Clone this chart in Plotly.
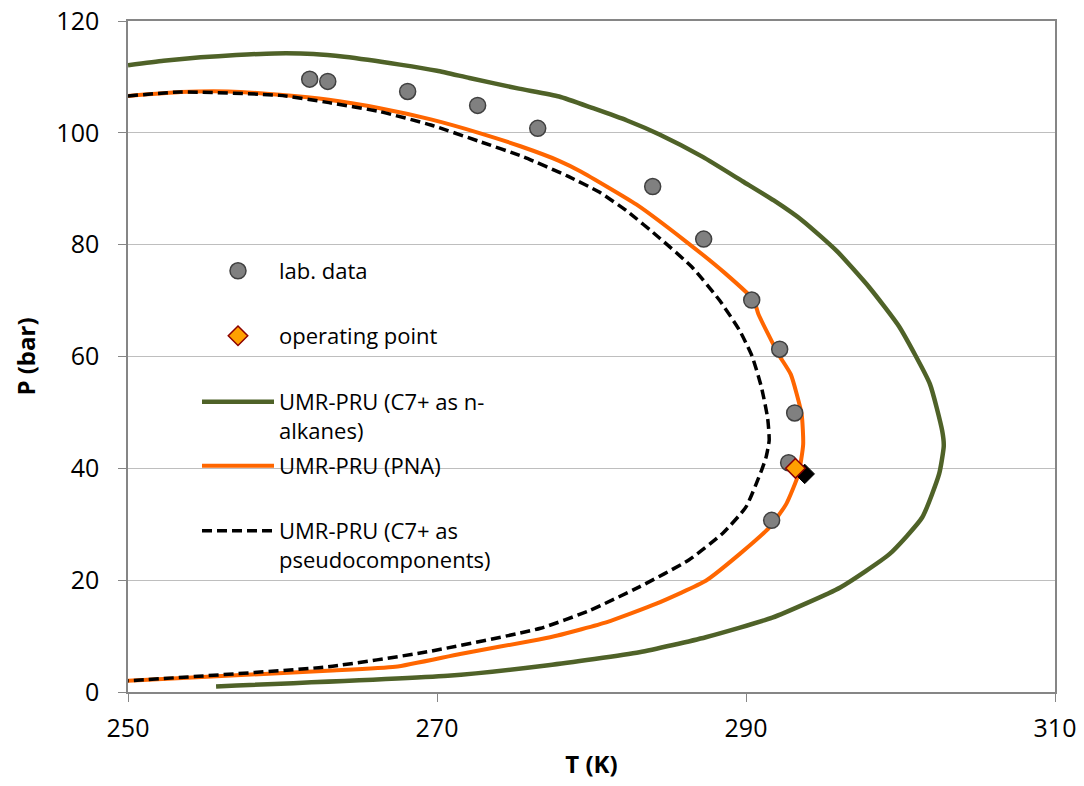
import plotly.graph_objects as go

# Lab data
lab_T = [261.76, 262.93, 268.1, 272.63, 276.52, 283.96, 287.26, 290.37, 292.18, 293.15, 292.76, 291.66]
lab_P = [109.6, 109.2, 107.4, 104.9, 100.8, 90.4, 81.0, 70.1, 61.3, 49.9, 41.0, 30.7]

# Operating point
op_T = [293.2]
op_P = [40.0]
op_shadow_T = [293.8]
op_shadow_P = [39.0]

# UMR-PRU (C7+ as n-alkanes)
nalk_T = [250.0, 252.3, 254.7, 257.0, 259.5, 262.0, 264.0, 267.6, 270.0, 272.1, 275.3, 277.9,
          280.1, 282.3, 284.4, 287.2, 289.8, 291.8, 293.7, 295.9, 298.0, 299.9, 301.9, 302.7,
          302.8, 302.5, 301.4, 299.3, 296.1, 291.7, 287.4, 283.1, 277.2, 270.7, 255.7]
nalk_P = [112.1, 112.9, 113.5, 113.9, 114.2, 114.1, 113.6, 112.2, 111.1, 109.8, 107.9, 106.5,
          104.4, 102.2, 99.7, 95.7, 91.3, 87.9, 84.2, 78.8, 72.3, 65.4, 55.1, 46.7,
          44.0, 39.0, 31.2, 24.7, 18.7, 13.3, 9.8, 7.1, 4.8, 2.9, 1.0]

# UMR-PRU (PNA)
pna_T = [250.0, 253.4, 256.5, 259.8, 263.0, 266.3, 269.6, 272.7, 275.4, 277.9, 279.3, 282.9,
         286.1, 288.6, 290.5, 290.8, 292.1, 292.9, 293.6, 293.7, 293.4, 292.6, 291.5, 289.6,
         287.4, 284.2, 281.0, 277.8, 276.6, 271.5, 267.3, 262.9, 250.0]
pna_P = [106.6, 107.3, 107.4, 106.8, 105.9, 104.4, 102.4, 100.0, 97.6, 95.0, 93.1, 87.2,
         80.6, 75.0, 70.1, 67.6, 60.4, 56.8, 49.7, 44.3, 39.0, 33.6, 29.4, 24.7,
         19.9, 15.8, 12.5, 10.1, 9.4, 6.8, 4.5, 3.8, 2.0]

# UMR-PRU (C7+ as pseudocomponents)
pseudo_T = [250.0, 253.4, 259.8, 263.0, 266.3, 269.6, 272.7, 275.6, 278.5, 280.5, 282.3, 284.4,
            286.5, 288.3, 289.6, 290.4, 291.0, 291.4, 291.5, 291.3, 291.0, 290.0, 288.5, 286.3,
            283.1, 279.9, 276.7, 269.4, 262.9, 250.0]
pseudo_P = [106.6, 107.3, 106.7, 105.4, 103.8, 101.4, 98.5, 95.7, 92.2, 89.4, 86.0, 81.2,
            76.0, 70.0, 64.6, 60.0, 54.5, 49.0, 45.0, 42.0, 39.6, 33.1, 28.4, 23.6,
            18.8, 14.6, 11.4, 7.2, 4.5, 2.0]

x_ticks = [250, 270, 290, 310]
y_ticks = [0, 20, 40, 60, 80, 100, 120]

FONT = "Open Sans"
GREEN = "#4F6228"
ORANGE = "#FF6600"

fig = go.Figure()

fig.add_trace(go.Scatter(x=nalk_T, y=nalk_P, mode="lines",
                         name="UMR-PRU (C7+ as n-<br>alkanes)",
                         line=dict(color=GREEN, width=4.5, shape="spline", smoothing=0.5),
                         legend="legend3"))
fig.add_trace(go.Scatter(x=pna_T, y=pna_P, mode="lines",
                         name="UMR-PRU (PNA)",
                         line=dict(color=ORANGE, width=4, shape="spline", smoothing=0.5),
                         legend="legend4"))
fig.add_trace(go.Scatter(x=pseudo_T, y=pseudo_P, mode="lines",
                         name="UMR-PRU (C7+ as<br>pseudocomponents)",
                         line=dict(color="black", width=3.5, dash="10px,5px",
                                   shape="spline", smoothing=0.5),
                         legend="legend5"))
fig.add_trace(go.Scatter(x=lab_T, y=lab_P, mode="markers", name="lab. data",
                         marker=dict(symbol="circle", size=16, color="#808080",
                                     line=dict(color="#404040", width=1.5)),
                         legend="legend"))
fig.add_trace(go.Scatter(x=op_shadow_T, y=op_shadow_P, mode="markers", showlegend=False,
                         marker=dict(symbol="diamond", size=15, color="black",
                                     line=dict(color="black", width=1))))
fig.add_trace(go.Scatter(x=op_T, y=op_P, mode="markers", name="operating point",
                         marker=dict(symbol="diamond", size=15, color="#FFA000",
                                     line=dict(color="#8B0000", width=1.5)),
                         legend="legend2"))

W, H = 1084, 786
ml, mr, mt, mb = 128, 29, 21, 94
pw, ph = W - ml - mr, H - mt - mb


def px2paper_x(px):
    return (px - ml) / pw


def py2paper_y(py):
    return (H - mb - py) / ph


leg_common = dict(xanchor="left", yanchor="top", bgcolor="rgba(0,0,0,0)",
                  font=dict(family=FONT, size=22, color="black"),
                  itemwidth=72, valign="top", tracegroupgap=0)
legend_x = px2paper_x(197)
tops = [250, 315, 381, 445, 510]
layout_legends = {}
for i, top in enumerate(tops):
    key = "legend" if i == 0 else f"legend{i+1}"
    layout_legends[key] = dict(leg_common, x=legend_x, y=py2paper_y(top))

fig.update_layout(
    width=W, height=H,
    margin=dict(l=ml, r=mr, t=mt, b=mb, autoexpand=False),
    paper_bgcolor="white", plot_bgcolor="white",
    font=dict(family=FONT, size=22, color="black"),
    showlegend=True,
    **layout_legends,
    shapes=[dict(type="rect", xref="paper", yref="paper",
                 x0=px2paper_x(190), x1=px2paper_x(513),
                 y0=py2paper_y(578), y1=py2paper_y(248),
                 fillcolor="white", line=dict(width=0), layer="between")],
)

fig.update_xaxes(range=[250, 310], tickvals=x_ticks, ticks="outside", ticklen=8,
                 tickcolor="#868686", showline=True, linecolor="#868686", linewidth=1.5,
                 mirror=True, showgrid=False, zeroline=False, automargin=False,
                 tickfont=dict(family=FONT, size=25, color="black"), ticklabelstandoff=5,
                 title=dict(text="<b>T (K)</b>", font=dict(family=FONT, size=24), standoff=13))
fig.update_yaxes(range=[0, 120], tickvals=y_ticks, ticks="outside", ticklen=8,
                 tickcolor="#868686", showline=True, linecolor="#868686", linewidth=1.5,
                 mirror=True, showgrid=True, gridcolor="#BEBEBE", gridwidth=1, zeroline=False,
                 automargin=False,
                 tickfont=dict(family=FONT, size=25, color="black"), ticklabelstandoff=14,
                 title=dict(text="<b>P (bar)</b>", font=dict(family=FONT, size=24), standoff=14))

fig.write_html("out.html")
